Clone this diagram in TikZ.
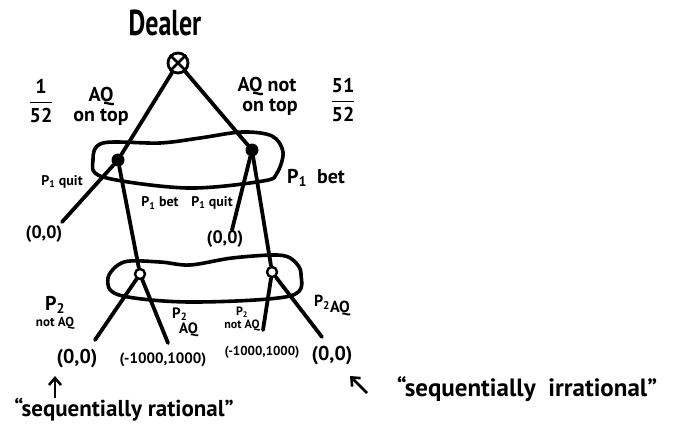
\documentclass[tikz,border=0pt]{standalone}
\usepackage{amsmath}
\usepackage{fontspec}
\setmainfont{PT Sans}
\usetikzlibrary{arrows.meta}
\newcommand{\fs}[1]{\fontsize{#1}{#1}\selectfont}
\tikzset{
  edge/.style={line width=3.8pt, line cap=round},
  blob/.style={line width=3.6pt},
  dec/.style={circle, fill=black, inner sep=0pt, minimum size=13pt},
  chk/.style={circle, draw, line width=2.4pt, fill=white, inner sep=0pt, minimum size=10pt},
  lbl/.style={inner sep=0pt, align=center},
  arr/.style={line width=2.6pt, -{Straight Barb[length=7pt, width=12pt, line width=2.6pt]}}
}
\begin{document}
\begin{tikzpicture}[x=1pt, y=-1pt, font=\bfseries]
\useasboundingbox (0,0) rectangle (680,432);
% information sets
\draw[blob] plot[smooth cycle, tension=0.55] coordinates {(93,160) (103,143) (160,143) (200,138) (242,132) (272,136) (283,152) (277,173) (263,181) (187,188) (103,177)};
\draw[blob] plot[smooth cycle, tension=0.55] coordinates {(108,278) (124,262) (160,262) (190,265) (232,258) (277,255) (293,260) (301,274) (290,296) (190,302) (119,295)};
% nodes
\node[circle, draw, line width=2.8pt, fill=white, minimum size=20pt, inner sep=0pt] (c) at (178,63) {};
\draw[line width=2.6pt] (c.north west) -- (c.south east) (c.north east) -- (c.south west);
\node[dec] (a) at (118,160) {};
\node[dec] (b) at (252,150) {};
\node[chk] (l) at (140,274) {};
\node[chk] (r) at (272,272) {};
\coordinate (qa) at (62,222);
\coordinate (qb) at (232,230);
\coordinate (l1) at (95,340);
\coordinate (l2) at (168,343);
\coordinate (r1) at (263,330);
\coordinate (r2) at (322,337);
% edges
\draw[edge] (c) -- (a);
\draw[edge] (c) -- (b);
\draw[edge] (a) -- (qa);
\draw[edge] (a) -- (l);
\draw[edge] (b) -- (qb);
\draw[edge] (b) -- (r);
\draw[edge] (l) -- (l1);
\draw[edge] (l) -- (l2);
\draw[edge] (r) -- (r1);
\draw[edge] (r) -- (r2);
% labels
\node[lbl, font=\fs{36}\bfseries, xscale=0.72] (dealer) at (165,23) {Dealer};
\node[lbl, font=\fs{20}\bfseries] (f1) at (41,101) {$\dfrac{\text{1}}{\text{52}}$};
\node[lbl, font=\fs{20}\bfseries] (f2) at (343,100) {$\dfrac{\text{51}}{\text{52}}$};
\node[lbl, font=\fs{20}\bfseries] (aq1) at (101,106) {AQ\\on top};
\node[lbl, font=\fs{20}\bfseries] (aq2) at (267,96) {AQ not\\\hspace{6pt}on top};
\node[lbl, font=\fs{14}\bfseries] (p1q) at (62,182) {P\textsubscript{1} quit};
\node[lbl, font=\fs{14}\bfseries] (p1b) at (160,203) {P\textsubscript{1} bet};
\node[lbl, font=\fs{14}\bfseries] (p1q2) at (212,203) {P\textsubscript{1} quit};
\node[lbl, font=\fs{20}\bfseries] (p1b2) at (316,178) {P\textsubscript{1}\ \ bet};
\node[lbl] (p2n) at (55,313) {{\fs{20}\bfseries P\textsubscript{2}}\\[3pt]{\fs{13}\bfseries not AQ}};
\node[lbl, align=left, font=\fs{15}\bfseries] (p2a) at (185,322) {P\textsubscript{2}\\[0pt]\hspace{7pt}AQ};
\node[lbl, font=\fs{12}\bfseries] (p2n2) at (242,319) {P\textsubscript{2}\\[1pt]not AQ};
\node[lbl, font=\fs{16}\bfseries] (p2a2) at (332,306) {P\textsubscript{2}\raisebox{-6pt}{AQ}};
\node[lbl, font=\fs{18}\bfseries] (z1) at (44,234) {(0,0)};
\node[lbl, font=\fs{18}\bfseries] (z2) at (225,239) {(0,0)};
\node[lbl, font=\fs{20}\bfseries] (z3) at (77,359) {(0,0)};
\node[lbl, font=\fs{15}\bfseries] (m1) at (163,360) {(-1000,1000)};
\node[lbl, font=\fs{13}\bfseries] (m2) at (262,352) {(-1000,1000)};
\node[lbl, font=\fs{20}\bfseries] (z4) at (332,356) {(0,0)};
\node[lbl, font=\fs{23}\bfseries] (sr) at (124,410) {“sequentially rational”};
\node[lbl, font=\fs{25}\bfseries] (si) at (527,389) {“sequentially\ \ irrational”};
\coordinate (sa0) at (55,398);
\coordinate (sa1) at (55,376);
\coordinate (sb0) at (367,393);
\coordinate (sb1) at (350,376);
\draw[arr] (sa0) -- (sa1);
\draw[arr] (sb0) -- (sb1);
\end{tikzpicture}
\end{document}
